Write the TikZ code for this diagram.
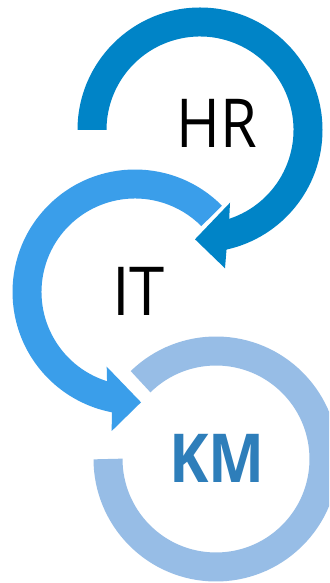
\documentclass[tikz,border=0pt]{standalone}
\usepackage{fontspec}
\setmainfont{Open Sans}
\usetikzlibrary{calc}
\definecolor{hrblue}{HTML}{0084C7}
\definecolor{itblue}{HTML}{3A9EEA}
\definecolor{kmring}{HTML}{97BDE6}
\definecolor{kmtext}{HTML}{2E7EBA}
\tikzset{
  lbl/.style={anchor=base, inner sep=0pt, font=\fontsize{67.5}{80}\selectfont},
}
\begin{document}
\begin{tikzpicture}[x=1pt,y=1pt]
\clip (0,0) rectangle (329,583);
\fill[white] (0,0) rectangle (329,583);
\coordinate (c1) at (200,453);
\coordinate (c2) at (135,291);
\coordinate (c3) at (216,124);
% bottom ring (KM)
\draw[kmring, line width=29pt] ($(c3)+(134.3:108)$) arc[start angle=134.3, end angle=-180, radius=108];
% middle ring (IT)
\fill[itblue] ($(c2)+(44.8:122.5)$) arc[start angle=44.8, end angle=259.1, radius=122.5]
  -- (111.7,152) -- (141,180.7) -- (106.7,216.3)
  -- ($(c2)+(252.6:93.5)$) arc[start angle=252.6, end angle=44.8, radius=93.5] -- cycle;
% top ring (HR)
\fill[hrblue] ($(c1)+(180:122.5)$) arc[start angle=180, end angle=-77.5, radius=122.5]
  -- (225,314.7) -- (195,343.7) -- (230,380.3)
  -- ($(c1)+(-71.8:93.5)$) arc[start angle=-71.8, end angle=180, radius=93.5] -- cycle;
\node[lbl] (hr) at (216.5,435) {\scalebox{0.88}[1]{HR}};
\node[lbl] (it) at (138.5,267) {\scalebox{0.94}[1]{IT}};
\node[lbl, text=kmtext, font=\fontsize{67.5}{80}\selectfont\bfseries] (km) at (217,100) {\scalebox{0.88}[1]{KM}};
\end{tikzpicture}
\end{document}
